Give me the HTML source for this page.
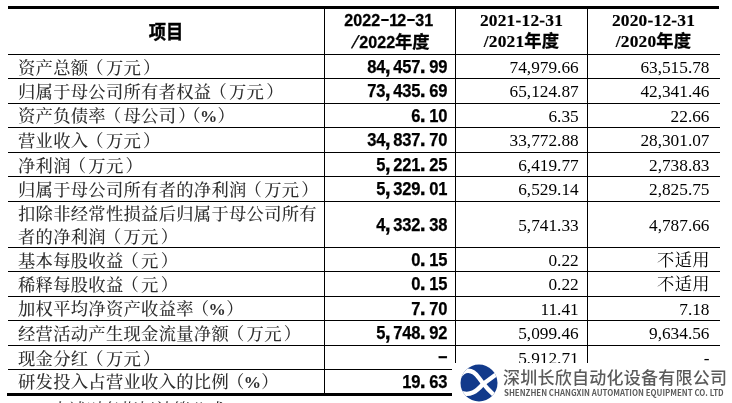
<!DOCTYPE html><html><head><meta charset="utf-8"><style>
*{margin:0;padding:0;box-sizing:border-box}
html,body{width:732px;height:403px;overflow:hidden;background:#fff}
body{position:relative;font-family:"Liberation Serif","Noto Serif CJK SC",serif;color:#000}
.hl{position:absolute;height:1px;background:#000}
.vl{position:absolute;width:1px;background:#000}
.c{position:absolute;display:flex;align-items:center;white-space:nowrap}
.lab{font:500 17.3px/22.3px "Noto Serif CJK SC",serif;color:#2e2e2e;padding-left:10px;letter-spacing:0.3px}
.p{font-family:"Liberation Serif",serif;font-weight:bold;margin-left:-2.9px}
.lp{position:relative;left:-2px}.rp{position:relative;left:2px}
.n1{justify-content:flex-end;font:bold 17.8px "Liberation Sans","Noto Sans CJK SC",sans-serif;padding-right:8.3px;padding-top:2px;-webkit-text-stroke:0.25px #000}
.n{justify-content:flex-end;font:17.3px "Liberation Serif",serif;padding-right:8.3px;padding-top:2.5px}
.n3{padding-right:9.5px}
.cj{font-family:"Noto Serif CJK SC",serif;position:relative;top:-2.5px;letter-spacing:0.3px;margin-right:-0.3px}
i.m{font-style:normal;display:inline-block;width:8.875px;text-align:center;transform:scaleX(.93)}
i.q{text-align:left;text-indent:-0.3px;transform:scale(1.2);transform-origin:0 70%}
i.e{position:relative;top:-2px}
i.d{color:transparent;position:relative;-webkit-text-stroke:0 transparent}
i.d:after{content:"";position:absolute;left:0.5px;right:0;top:50%;height:2.2px;margin-top:-1.5px;background:#000}
i.s{transform:scale(1.05,1.02) skewX(-16deg);font-weight:normal}
.hd{position:absolute;font-weight:bold;font-size:17.3px;line-height:20px;-webkit-text-stroke:0.3px #000}
.hl1,.hl2{position:absolute;left:0;width:100%;text-align:center;white-space:nowrap;height:20px}
.hl1{top:1px}.hl2{top:23px}
.hs .hl1{left:-1.5px}
.hd0{position:absolute;display:flex;align-items:center;justify-content:center;font:bold 17.3px/20px "Noto Sans CJK SC",sans-serif}
.hd0 span{display:inline-block;transform:translateY(-1.2px) scaleY(1.1);-webkit-text-stroke:0.35px #000}
.k{line-height:1}
.hs{font-family:"Liberation Sans","Noto Sans CJK SC",sans-serif}
.hsr{font-family:"Liberation Serif","Noto Sans CJK SC",serif;-webkit-text-stroke:0.15px #000}
.hsr .k{-webkit-text-stroke:0.3px #000;font-size:17.3px}
.hsr{font-size:17.4px;letter-spacing:0.2px}
.hsr .hl1{top:1.3px}
.hsr .hl2{top:22px}
.k{font-family:"Noto Sans CJK SC",sans-serif;font-weight:bold}
.logo{position:absolute;left:452px;top:363px;width:280px;height:40px;background:#fff}
.lg{position:absolute;left:7.2px;top:0px}
.lt1{position:absolute;left:51px;top:4px;font:500 17px/20px "Noto Sans CJK SC",sans-serif;color:#5b5b5b;white-space:nowrap;letter-spacing:0.25px}
.lt2{position:absolute;left:51.5px;top:23.6px;font:bold 8.6px/10px "Noto Sans CJK SC","Liberation Sans",sans-serif;color:#5b5b5b;white-space:nowrap;transform:scaleX(.915);transform-origin:0 0}
.foot{position:absolute;left:52px;top:398px;font:17.3px/22px "Noto Serif CJK SC",serif;color:#222;white-space:nowrap}
</style></head><body>
<div class="hl" style="left:8px;top:6px;width:711px;height:3px"></div>
<div class="hl" style="left:7px;top:393px;width:712px;height:3px"></div>
<div class="hl" style="left:8px;top:54px;width:712px"></div>
<div class="hl" style="left:8px;top:78px;width:712px"></div>
<div class="hl" style="left:8px;top:103px;width:712px"></div>
<div class="hl" style="left:8px;top:127px;width:712px"></div>
<div class="hl" style="left:8px;top:152px;width:712px"></div>
<div class="hl" style="left:8px;top:176px;width:712px"></div>
<div class="hl" style="left:8px;top:201px;width:712px"></div>
<div class="hl" style="left:8px;top:247px;width:712px"></div>
<div class="hl" style="left:8px;top:271px;width:712px"></div>
<div class="hl" style="left:8px;top:296px;width:712px"></div>
<div class="hl" style="left:8px;top:320px;width:712px"></div>
<div class="hl" style="left:8px;top:345px;width:712px"></div>
<div class="hl" style="left:8px;top:369px;width:712px"></div>
<div class="vl" style="left:324px;top:9px;height:384px"></div>
<div class="vl" style="left:455px;top:9px;height:384px"></div>
<div class="vl" style="left:587px;top:9px;height:384px"></div>
<div class="hd0" style="left:8px;top:9px;width:316px;height:45px"><span class="k">项目</span></div>
<div class="hd hs" style="left:325px;top:9px;width:130px;height:45px"><div class="hl1"><i class="m">2</i><i class="m">0</i><i class="m">2</i><i class="m">2</i><i class="m d">-</i><i class="m">1</i><i class="m">2</i><i class="m d">-</i><i class="m">3</i><i class="m">1</i></div><div class="hl2"><i class="m s">/</i><i class="m">2</i><i class="m">0</i><i class="m">2</i><i class="m">2</i><span class="k">年度</span></div></div>
<div class="hd hsr" style="left:456px;top:9px;width:131px;height:45px"><div class="hl1">2021-12-31</div><div class="hl2">/2021<span class="k">年度</span></div></div>
<div class="hd hsr" style="left:588px;top:9px;width:131px;height:45px"><div class="hl1">2020-12-31</div><div class="hl2">/2020<span class="k">年度</span></div></div>
<div class="c lab" style="left:8px;top:55px;width:316px;height:23.5px"><span>资产总额<span class=lp>（</span>万元<span class=rp>）</span></span></div>
<div class="c n1" style="left:325px;top:55px;width:130px;height:23.5px"><span><i class="m">8</i><i class="m">4</i><i class="m q">,</i><i class="m">4</i><i class="m">5</i><i class="m">7</i><i class="m q">.</i><i class="m">9</i><i class="m">9</i></span></div>
<div class="c n" style="left:456px;top:55px;width:131px;height:23.5px"><span>74,979.66</span></div>
<div class="c n n3" style="left:588px;top:55px;width:131px;height:23.5px"><span>63,515.78</span></div>
<div class="c lab" style="left:8px;top:79px;width:316px;height:23.5px"><span>归属于母公司所有者权益<span class=lp>（</span>万元<span class=rp>）</span></span></div>
<div class="c n1" style="left:325px;top:79px;width:130px;height:23.5px"><span><i class="m">7</i><i class="m">3</i><i class="m q">,</i><i class="m">4</i><i class="m">3</i><i class="m">5</i><i class="m q">.</i><i class="m">6</i><i class="m">9</i></span></div>
<div class="c n" style="left:456px;top:79px;width:131px;height:23.5px"><span>65,124.87</span></div>
<div class="c n n3" style="left:588px;top:79px;width:131px;height:23.5px"><span>42,341.46</span></div>
<div class="c lab" style="left:8px;top:104px;width:316px;height:23.5px"><span>资产负债率<span class=lp>（</span>母公司<span class=rp>）</span><span class=lp>（</span><span class=p>%</span><span class=rq>）</span></span></div>
<div class="c n1" style="left:325px;top:104px;width:130px;height:23.5px"><span><i class="m">6</i><i class="m q">.</i><i class="m">1</i><i class="m">0</i></span></div>
<div class="c n" style="left:456px;top:104px;width:131px;height:23.5px"><span>6.35</span></div>
<div class="c n n3" style="left:588px;top:104px;width:131px;height:23.5px"><span>22.66</span></div>
<div class="c lab" style="left:8px;top:128px;width:316px;height:23.5px"><span>营业收入<span class=lp>（</span>万元<span class=rp>）</span></span></div>
<div class="c n1" style="left:325px;top:128px;width:130px;height:23.5px"><span><i class="m">3</i><i class="m">4</i><i class="m q">,</i><i class="m">8</i><i class="m">3</i><i class="m">7</i><i class="m q">.</i><i class="m">7</i><i class="m">0</i></span></div>
<div class="c n" style="left:456px;top:128px;width:131px;height:23.5px"><span>33,772.88</span></div>
<div class="c n n3" style="left:588px;top:128px;width:131px;height:23.5px"><span>28,301.07</span></div>
<div class="c lab" style="left:8px;top:153px;width:316px;height:23.5px"><span>净利润<span class=lp>（</span>万元<span class=rp>）</span></span></div>
<div class="c n1" style="left:325px;top:153px;width:130px;height:23.5px"><span><i class="m">5</i><i class="m q">,</i><i class="m">2</i><i class="m">2</i><i class="m">1</i><i class="m q">.</i><i class="m">2</i><i class="m">5</i></span></div>
<div class="c n" style="left:456px;top:153px;width:131px;height:23.5px"><span>6,419.77</span></div>
<div class="c n n3" style="left:588px;top:153px;width:131px;height:23.5px"><span>2,738.83</span></div>
<div class="c lab" style="left:8px;top:177px;width:316px;height:23.5px"><span>归属于母公司所有者的净利润<span class=lp>（</span>万元<span class=rp>）</span></span></div>
<div class="c n1" style="left:325px;top:177px;width:130px;height:23.5px"><span><i class="m">5</i><i class="m q">,</i><i class="m">3</i><i class="m">2</i><i class="m">9</i><i class="m q">.</i><i class="m">0</i><i class="m">1</i></span></div>
<div class="c n" style="left:456px;top:177px;width:131px;height:23.5px"><span>6,529.14</span></div>
<div class="c n n3" style="left:588px;top:177px;width:131px;height:23.5px"><span>2,825.75</span></div>
<div class="c lab" style="left:8px;top:202px;width:316px;height:45px"><span>扣除非经常性损益后归属于母公司所有<br>者的净利润<span class=lp>（</span>万元<span class=rp>）</span></span></div>
<div class="c n1" style="left:325px;top:202px;width:130px;height:45px"><span><i class="m">4</i><i class="m q">,</i><i class="m">3</i><i class="m">3</i><i class="m">2</i><i class="m q">.</i><i class="m">3</i><i class="m">8</i></span></div>
<div class="c n" style="left:456px;top:202px;width:131px;height:45px"><span>5,741.33</span></div>
<div class="c n n3" style="left:588px;top:202px;width:131px;height:45px"><span>4,787.66</span></div>
<div class="c lab" style="left:8px;top:248px;width:316px;height:23.5px"><span>基本每股收益<span class=lp>（</span>元<span class=rp>）</span></span></div>
<div class="c n1" style="left:325px;top:248px;width:130px;height:23.5px"><span><i class="m">0</i><i class="m q">.</i><i class="m">1</i><i class="m">5</i></span></div>
<div class="c n" style="left:456px;top:248px;width:131px;height:23.5px"><span>0.22</span></div>
<div class="c n n3" style="left:588px;top:248px;width:131px;height:23.5px"><span><span class=cj>不适用</span></span></div>
<div class="c lab" style="left:8px;top:272px;width:316px;height:23.5px"><span>稀释每股收益<span class=lp>（</span>元<span class=rp>）</span></span></div>
<div class="c n1" style="left:325px;top:272px;width:130px;height:23.5px"><span><i class="m">0</i><i class="m q">.</i><i class="m">1</i><i class="m">5</i></span></div>
<div class="c n" style="left:456px;top:272px;width:131px;height:23.5px"><span>0.22</span></div>
<div class="c n n3" style="left:588px;top:272px;width:131px;height:23.5px"><span><span class=cj>不适用</span></span></div>
<div class="c lab" style="left:8px;top:297px;width:316px;height:23.5px"><span>加权平均净资产收益率<span class=lp>（</span><span class=p>%</span><span class=rq>）</span></span></div>
<div class="c n1" style="left:325px;top:297px;width:130px;height:23.5px"><span><i class="m">7</i><i class="m q">.</i><i class="m">7</i><i class="m">0</i></span></div>
<div class="c n" style="left:456px;top:297px;width:131px;height:23.5px"><span>11.41</span></div>
<div class="c n n3" style="left:588px;top:297px;width:131px;height:23.5px"><span>7.18</span></div>
<div class="c lab" style="left:8px;top:321px;width:316px;height:23.5px"><span>经营活动产生现金流量净额<span class=lp>（</span>万元<span class=rp>）</span></span></div>
<div class="c n1" style="left:325px;top:321px;width:130px;height:23.5px"><span><i class="m">5</i><i class="m q">,</i><i class="m">7</i><i class="m">4</i><i class="m">8</i><i class="m q">.</i><i class="m">9</i><i class="m">2</i></span></div>
<div class="c n" style="left:456px;top:321px;width:131px;height:23.5px"><span>5,099.46</span></div>
<div class="c n n3" style="left:588px;top:321px;width:131px;height:23.5px"><span>9,634.56</span></div>
<div class="c lab" style="left:8px;top:346px;width:316px;height:23.5px"><span>现金分红<span class=lp>（</span>万元<span class=rp>）</span></span></div>
<div class="c n1" style="left:325px;top:346px;width:130px;height:23.5px"><span><i class="m e">–</i></span></div>
<div class="c n" style="left:456px;top:346px;width:131px;height:23.5px"><span>5,912.71</span></div>
<div class="c n n3" style="left:588px;top:346px;width:131px;height:23.5px"><span>-</span></div>
<div class="c lab" style="left:8px;top:370px;width:316px;height:23.5px"><span>研发投入占营业收入的比例<span class=lp>（</span><span class=p>%</span><span class=rq>）</span></span></div>
<div class="c n1" style="left:325px;top:370px;width:130px;height:23.5px"><span><i class="m">1</i><i class="m">9</i><i class="m q">.</i><i class="m">6</i><i class="m">3</i></span></div>
<div class="c n" style="left:456px;top:370px;width:131px;height:23.5px"><span></span></div>
<div class="c n n3" style="left:588px;top:370px;width:131px;height:23.5px"><span></span></div>
<div class="logo"><svg class="lg" width="40" height="40" viewBox="-20 -20 40 40"><defs><clipPath id="cc"><circle cx="0" cy="0" r="18.5"/></clipPath></defs><circle cx="0" cy="0" r="18.5" fill="#123a8b"/><g clip-path="url(#cc)" fill="none" stroke="#fff" stroke-width="4.3"><path d="M-20 -6 C-15 -14 -7 -15 0 -5 S 12 10 19 15"/><path d="M19 -10 L 4 1 C -2 8 -9 14 -20 9"/></g></svg><div class="lt1">深圳长欣自动化设备有限公司</div><div class="lt2">SHENZHEN CHANGXIN AUTOMATION EQUIPMENT CO. LTD</div></div>
<div class="foot">上述财务指标计算公式</div>
</body></html>
